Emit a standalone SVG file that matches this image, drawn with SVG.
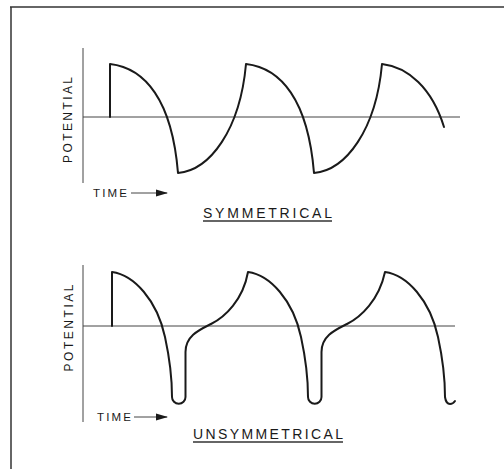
<svg xmlns="http://www.w3.org/2000/svg" width="504" height="469" viewBox="0 0 504 469">
<style>
.frame{fill:none;stroke:#333;stroke-width:1.5}
.axis{fill:none;stroke:#444;stroke-width:1}
.wave{fill:none;stroke:#1a1a1a;stroke-width:2;stroke-linejoin:round;stroke-linecap:round}
.lbl{font-family:"Liberation Sans",Arial,sans-serif;fill:#1a1a1a}
.ul{stroke:#333;stroke-width:1.5}
</style>
<defs>
<marker id="ah" markerWidth="12" markerHeight="8" refX="11" refY="4" orient="auto" markerUnits="userSpaceOnUse">
<path d="M0,0.5 L12,4 L0,7.5 Z" fill="#1a1a1a"/>
</marker>
</defs>
<rect width="504" height="469" fill="#fff"/>
<g id="frame">
<line class="frame" x1="10" y1="7" x2="504" y2="7"/>
<line class="frame" x1="11" y1="7" x2="11" y2="469"/>
</g>
<g id="symmetrical">
<g id="sym-axes">
<line class="axis" x1="83" y1="48" x2="83" y2="183"/>
<line class="axis" x1="83" y1="117" x2="460" y2="117"/>
</g>
<path id="sym-wave" class="wave" d="M110,117 L110,64 C145,68 172,100 178,173 C210,170 240,130 246,64 C281,68 308,100 314,173 C346,170 376,130 382,64 C408,67 432,88 444,127"/>
<text class="lbl" font-size="12" transform="translate(71.5,120) rotate(-90)" text-anchor="middle" textLength="86" lengthAdjust="spacing">POTENTIAL</text>
<text class="lbl" font-size="11.5" x="93" y="197" textLength="34" lengthAdjust="spacing">TIME</text>
<line class="axis" x1="131" y1="193" x2="167" y2="193" stroke="#1a1a1a" stroke-width="1.3" marker-end="url(#ah)"/>
<text class="lbl" font-size="14" x="203" y="217.5" textLength="129" lengthAdjust="spacing">SYMMETRICAL</text>
<line class="ul" x1="203" y1="221" x2="332" y2="221"/>
</g>
<g id="unsymmetrical">
<g id="uns-axes">
<line class="axis" x1="83" y1="265" x2="83" y2="422"/>
<line class="axis" x1="83" y1="326" x2="455" y2="326"/>
</g>
<path id="uns-wave" class="wave" d="M112,326 L112,272 C134,275 157,300 165,337 C170,360 172,380 172,397 A6.75,6.75 0 0 0 185.5,397 L185.5,352 C185.5,336 199,330 211,324 C225,317 243,300 248,272 C270,275 293,300 301,337 C306,360 308,380 308,397 A6.75,6.75 0 0 0 321.5,397 L321.5,352 C321.5,336 335,330 347,324 C361,317 379,300 385,272 C407,275 430,300 438,337 C443,360 445,380 445,397 Q446,404 450,404 Q453,404 455,401"/>
<text class="lbl" font-size="12" transform="translate(72.5,328) rotate(-90)" text-anchor="middle" textLength="87" lengthAdjust="spacing">POTENTIAL</text>
<text class="lbl" font-size="11.5" x="97" y="421" textLength="34" lengthAdjust="spacing">TIME</text>
<line class="axis" x1="134" y1="417" x2="167" y2="417" stroke="#1a1a1a" stroke-width="1.3" marker-end="url(#ah)"/>
<text class="lbl" font-size="14" x="193" y="438.5" textLength="150" lengthAdjust="spacing">UNSYMMETRICAL</text>
<line class="ul" x1="193" y1="442" x2="343" y2="442"/>
</g>
</svg>
